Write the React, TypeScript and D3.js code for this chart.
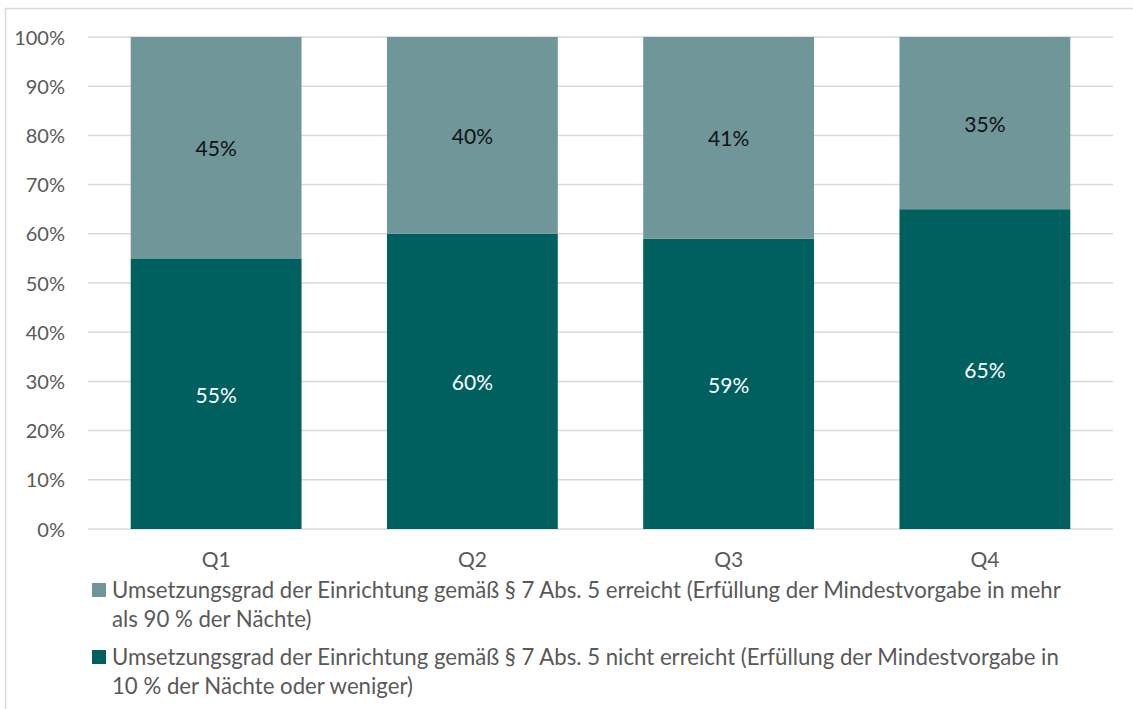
import React from "react";
import * as d3 from "d3";

const categories = ["Q1", "Q2", "Q3", "Q4"];
const notReached = [55, 60, 59, 65];
const reached = [45, 40, 41, 35];
const yTicks = [0, 10, 20, 30, 40, 50, 60, 70, 80, 90, 100];
const legendLines = [
  ["Umsetzungsgrad der Einrichtung gemäß § 7 Abs. 5 erreicht (Erfüllung der Mindestvorgabe in mehr", "als 90 % der Nächte)"],
  ["Umsetzungsgrad der Einrichtung gemäß § 7 Abs. 5 nicht erreicht (Erfüllung der Mindestvorgabe in", "10 % der Nächte oder weniger)"],
];

const W = 1133, H = 709;
const LIGHT = "#6F9698";
const DARK = "#00605F";
const FONT = "Lato, 'Open Sans', sans-serif";

export default function App() {
  const x = d3.scaleBand<string>().domain(categories).range([88, 1113]).paddingInner(1 / 3).paddingOuter(1 / 6);
  const y = d3.scaleLinear().domain([0, 100]).range([529, 37]);
  const legendColors = [LIGHT, DARK];
  const legendBase = [598, 665];
  return (
    <svg width={W} height={H} style={{ position: "absolute", left: 0, top: 0 }} fontFamily={FONT}>
      <rect x={0} y={0} width={W} height={H} fill="#fff" />
      <path d={`M5.5,${H} V8.5 H${W}`} fill="none" stroke="#D9D9D9" strokeWidth={1.5} />
      {yTicks.map((t) => (
        <g key={t}>
          <line x1={88} x2={1113} y1={y(t)} y2={y(t)} stroke="#D9D9D9" strokeWidth={1.5} />
          <text x={65} y={y(t) + 7.5} textAnchor="end" fontSize={20} fill="#595959">{t}%</text>
        </g>
      ))}
      {categories.map((c, i) => {
        const bx = x(c)!;
        const bw = x.bandwidth();
        const cx = bx + bw / 2;
        const y0 = y(0), y1 = y(notReached[i]), y2 = y(notReached[i] + reached[i]);
        return (
          <g key={c}>
            <rect x={bx} y={y1} width={bw} height={y0 - y1} fill={DARK} />
            <rect x={bx} y={y2} width={bw} height={y1 - y2} fill={LIGHT} />
            <text x={cx} y={(y0 + y1) / 2 + 9} textAnchor="middle" fontSize={21} fill="#fff">{notReached[i]}%</text>
            <text x={cx} y={(y1 + y2) / 2 + 8.5} textAnchor="middle" fontSize={21} fill="#111">{reached[i]}%</text>
            <text x={cx} y={567} textAnchor="middle" fontSize={21} fill="#595959">{c}</text>
          </g>
        );
      })}
      {legendLines.map((lines, i) => (
        <g key={i}>
          <rect x={92} y={legendBase[i] - 15} width={14} height={14} fill={legendColors[i]} />
          {lines.map((l, j) => (
            <text key={j} x={112} y={legendBase[i] + j * 29} fontSize={22.2} fill="#595959">{l}</text>
          ))}
        </g>
      ))}
    </svg>
  );
}
